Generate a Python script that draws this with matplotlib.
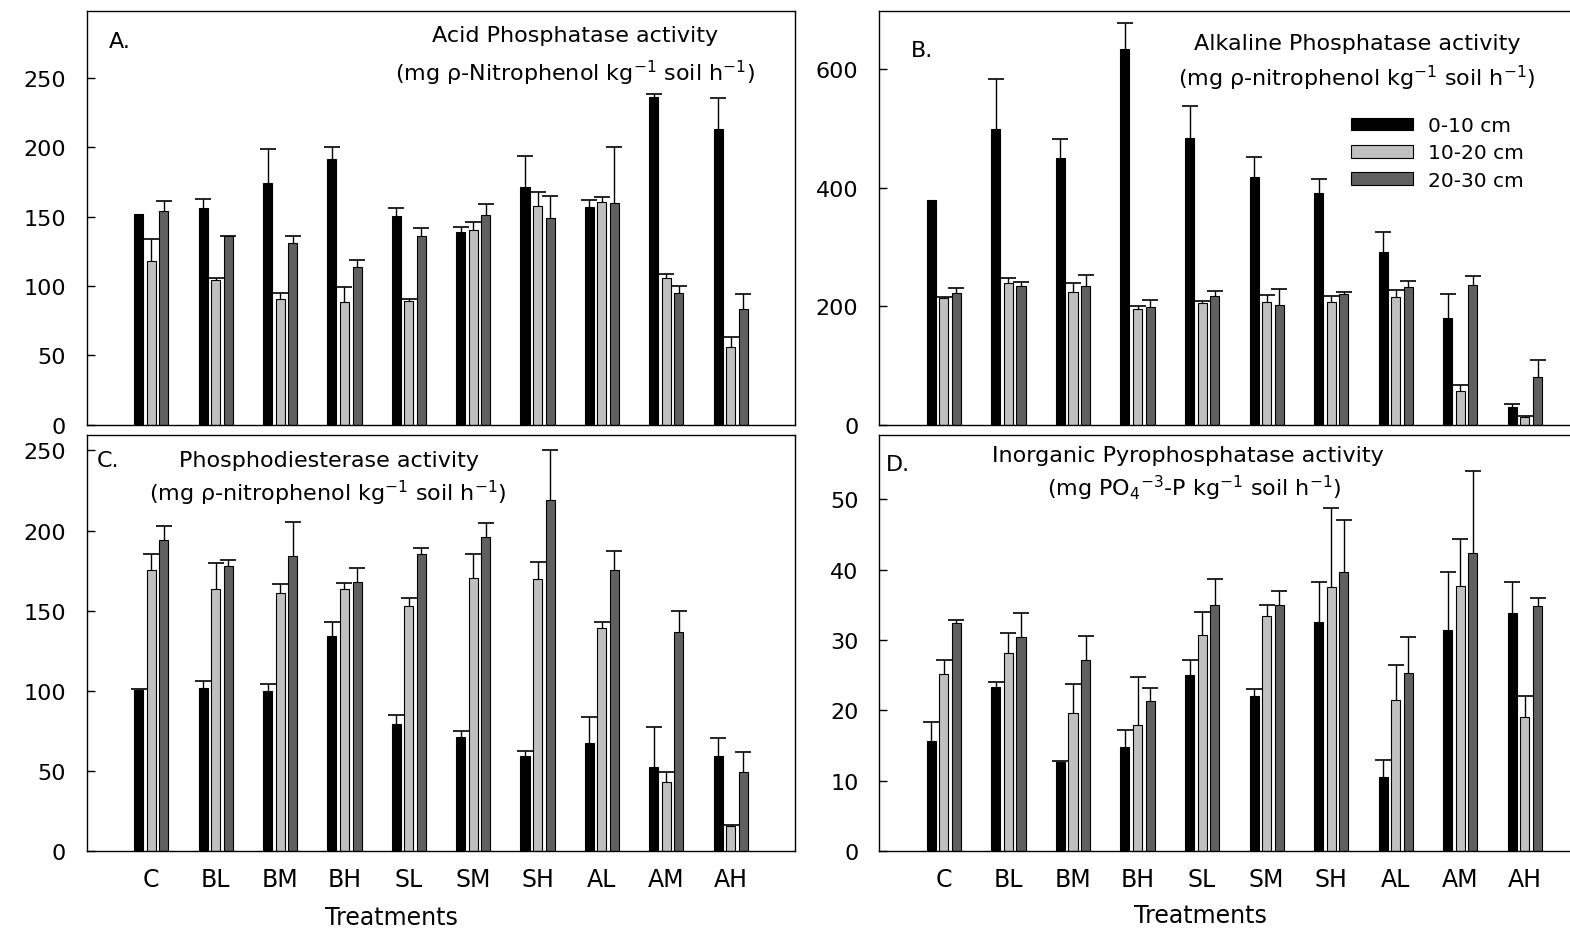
import matplotlib
matplotlib.use("Agg")
import matplotlib.pyplot as plt
import numpy as np

treatments = ["C", "BL", "BM", "BH", "SL", "SM", "SH", "AL", "AM", "AH"]
depths = ["0-10 cm", "10-20 cm", "20-30 cm"]
colors = ["#000000", "#c0c0c0", "#606060"]
nan = float("nan")

# A. Acid phosphatase
acid_0_10 = [152, 156, 174.5, 191.5, 150.6, 139.3, 171.3, 157, 236, 213.4]
acid_0_10_err = [nan, 7, 24, 8.5, 5.4, 2.9, 22.7, 4.7, 2.7, 22.4]
acid_10_20 = [118, 104, 90.7, 88.3, 89.3, 140.3, 157.8, 160.7, 105.6, 56]
acid_10_20_err = [16, 2, 4.3, 10.7, 1.4, 5.5, 10.2, 3.2, 3.2, 7.3]
acid_20_30 = [154, 136, 131, 114, 136.4, 151, 149, 160, 94.8, 83.5]
acid_20_30_err = [7, 0.4, 4.7, 5, 5.6, 7.8, 15.8, 40, 5.2, 10.8]

# B. Alkaline phosphatase
alk_0_10 = [380, 499, 451, 634, 484, 419, 392, 292, 180, 30.4]
alk_0_10_err = [nan, 84, 31, 45, 54, 33, 23, 34, 40, 3.9]
alk_10_20 = [213.9, 240, 224.6, 195.3, 205.4, 206.6, 208, 216, 57, 12.4]
alk_10_20_err = [2.1, 8, 15.4, 4.5, 3.6, 12.4, 9.8, 12, 10.5, 1.6]
alk_20_30 = [222, 234, 233.6, 199, 217.3, 202.6, 221, 232.5, 236, 81]
alk_20_30_err = [8, 7.5, 19.1, 12, 8.4, 25.9, 2.4, 9.5, 15, 27.6]

# C. Phosphodiesterase
pde_0_10 = [100.8, 101.6, 99.8, 134.2, 79.2, 71.3, 59.2, 67.5, 52.4, 59.2]
pde_0_10_err = [0.3, 4.8, 4.3, 8.8, 5.6, 3.9, 3.6, 16.5, 25.3, 11.5]
pde_10_20 = [175.2, 163.8, 161, 163.3, 153, 170.2, 170, 139.2, 43, 16]
pde_10_20_err = [10.4, 16, 5.9, 4.2, 5.1, 15.4, 10.2, 4, 6.7, 0.3]
pde_20_30 = [193.9, 177.9, 184.3, 167.7, 185.4, 195.8, 219, 175.2, 136.5, 49.5]
pde_20_30_err = [9.1, 3.9, 21.2, 9.1, 3.7, 9.1, 31.4, 12, 13.3, 12.6]

# D. Inorganic pyrophosphatase
ppa_0_10 = [15.7, 23.3, 12.7, 14.8, 25, 22, 32.6, 10.6, 31.4, 33.8]
ppa_0_10_err = [2.6, 0.8, 0.1, 2.4, 2.1, 1, 5.7, 2.3, 8.2, 4.5]
ppa_10_20 = [25.1, 28.1, 19.6, 17.9, 30.7, 33.4, 37.5, 21.5, 37.6, 19]
ppa_10_20_err = [2.1, 2.9, 4.1, 6.8, 3.3, 1.5, 11.2, 4.9, 6.8, 3.1]
ppa_20_30 = [32.4, 30.4, 27.2, 21.4, 34.9, 35, 39.6, 25.3, 42.4, 34.8]
ppa_20_30_err = [0.4, 3.5, 3.3, 1.8, 3.7, 1.9, 7.5, 5.1, 11.6, 1.2]

W, H = 1570, 929
fig = plt.figure(figsize=(W / 100, H / 100), dpi=100)


def px_axes(left, top, right, bottom):
    return fig.add_axes([left / W, (H - bottom) / H, (right - left) / W, (bottom - top) / H])


def ftext(x, y, s, size, ha="center", va="baseline"):
    fig.text(x / W, 1 - y / H, s, fontsize=size, ha=ha, va=va)


offsets = [-0.195, 0.0, 0.195]
bw = 0.14


def panel(ax, series, errs, ymax, yticks, show_x):
    x = np.arange(1, len(treatments) + 1)
    for k, (vals, err) in enumerate(zip(series, errs)):
        pos = x + offsets[k]
        v = np.array(vals, float)
        e = np.array(err, float)
        ax.bar(pos, v, width=bw, color=colors[k], edgecolor="black",
               linewidth=0.8, zorder=2, label=depths[k])
        m = np.isfinite(e)
        res = ax.errorbar(pos[m], v[m], yerr=[np.zeros(m.sum()), e[m]], fmt="none",
                          ecolor="black", elinewidth=1.0, capsize=5.8,
                          capthick=1.2, zorder=3)
        for cl in res[1]:
            if np.allclose(cl.get_ydata(), v[m]):
                cl.set_visible(False)
    ax.set_xlim(0, 11)
    ax.set_ylim(0, ymax)
    ax.set_yticks(yticks)
    ax.set_xticks(x)
    if show_x:
        ax.set_xticklabels(treatments)
    else:
        ax.set_xticklabels([])
    ax.tick_params(axis="y", direction="in", length=6, width=1, pad=15, labelsize=16)
    ax.tick_params(axis="x", length=0, pad=11, labelsize=17)
    for sp in ax.spines.values():
        sp.set_linewidth(1.0)
        sp.set_color("black")


axA = px_axes(87, 11.7, 795, 425.7)
panel(axA, [acid_0_10, acid_10_20, acid_20_30], [acid_0_10_err, acid_10_20_err, acid_20_30_err],
      298.5, [0, 50, 100, 150, 200, 250], False)
axB = px_axes(879.3, 11.7, 1589.5, 425.7)
panel(axB, [alk_0_10, alk_10_20, alk_20_30], [alk_0_10_err, alk_10_20_err, alk_20_30_err],
      699, [0, 200, 400, 600], False)
axC = px_axes(87, 436, 795, 852.3)
panel(axC, [pde_0_10, pde_10_20, pde_20_30], [pde_0_10_err, pde_10_20_err, pde_20_30_err],
      259.6, [0, 50, 100, 150, 200, 250], True)
axD = px_axes(879.3, 436, 1589.5, 852.3)
panel(axD, [ppa_0_10, ppa_10_20, ppa_20_30], [ppa_0_10_err, ppa_10_20_err, ppa_20_30_err],
      59.1, [0, 10, 20, 30, 40, 50], True)

TS = 16
# Panel labels and titles
ftext(109, 48, "A.", TS, ha="left")
ftext(575, 41.7, "Acid Phosphatase activity", TS)
ftext(575, 81.7, "(mg ρ-Nitrophenol kg$^{-1}$ soil h$^{-1}$)", TS)

ftext(911, 57, "B.", TS, ha="left")
ftext(1357, 50, "Alkaline Phosphatase activity", TS)
ftext(1357, 86, "(mg ρ-nitrophenol kg$^{-1}$ soil h$^{-1}$)", TS)

ftext(97, 467, "C.", TS, ha="left")
ftext(329, 467, "Phosphodiesterase activity", TS)
ftext(328, 501.7, "(mg ρ-nitrophenol kg$^{-1}$ soil h$^{-1}$)", TS)

ftext(886, 470.7, "D.", TS, ha="left")
ftext(1188, 461.7, "Inorganic Pyrophosphatase activity", TS)
ftext(1194, 496.7, "(mg PO$_4$$^{-3}$-P kg$^{-1}$ soil h$^{-1}$)", TS)

ftext(391, 925, "Treatments", 17)
ftext(1200, 923, "Treatments", 17)

# Legend
handles, labels = axB.get_legend_handles_labels()
fig.legend(handles, labels, loc="upper left", bbox_to_anchor=(1350.7 / W, 1 - 117 / H),
           frameon=False, fontsize=14.5, handlelength=3.1, handleheight=0.6,
           handletextpad=0.75, labelspacing=0.42, borderpad=0, borderaxespad=0)

fig.savefig("out.png", dpi=100)
